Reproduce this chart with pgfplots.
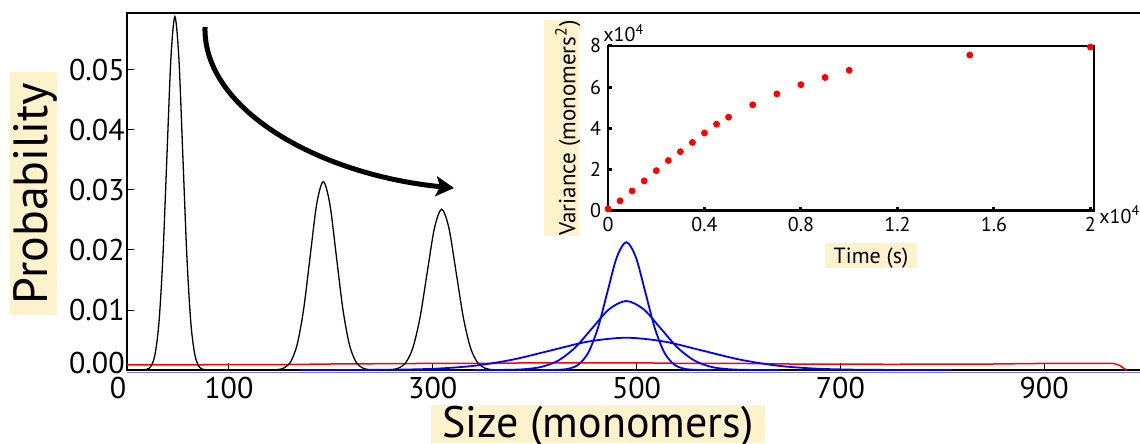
\documentclass[border=0pt]{standalone}
\usepackage{fontspec}
\setmainfont{PT Sans}
\usepackage{pgfplots}
\pgfplotsset{compat=1.18}
\usetikzlibrary{arrows.meta}
\definecolor{labelbg}{RGB}{253,242,204}
\definecolor{axisblue}{RGB}{120,120,210}
\begin{document}
\begin{tikzpicture}
\useasboundingbox (0,0) rectangle (570pt,-222pt);
% main distribution plot
\begin{axis}[
  at={(63.5pt,-185pt)}, anchor=south west,
  scale only axis, width=508pt, height=178.5pt,
  xmin=0, xmax=997, ymin=0, ymax=0.0595,
  axis line style={line width=1.4pt},
  tick align=inside, tick pos=left,
  major tick length=3.5pt,
  tick style={black, line width=0.5pt},
  xtick={100,300,500,700,900},
  ytick={0.01,0.02,0.03,0.04,0.05},
  extra x ticks={0},
  extra x tick style={xticklabel style={xshift=-4.5pt}},
  extra y ticks={0},
  extra y tick style={yticklabel style={yshift=3.5pt}},
  scaled y ticks=false,
  /pgf/number format/assume math mode=true,
  ticklabel style={font=\fontsize{15}{18}\selectfont},
  yticklabel style={/pgf/number format/fixed, /pgf/number format/fixed zerofill,
    /pgf/number format/precision=2, inner xsep=1pt},
]
\addplot[red, line width=0.75pt] coordinates {
  (0,0.00085) (50,0.00085) (100,0.0009) (150,0.0009) (200,0.001) (250,0.00105)
  (300,0.0011) (350,0.0011) (400,0.0012) (450,0.0012) (500,0.0012) (550,0.0011)
  (600,0.0011) (650,0.001) (700,0.001) (750,0.00095) (800,0.001) (850,0.001)
  (900,0.0011) (950,0.0011) (968,0.0011) (974,0.0008) (978,0.0003) (981,0)
};
\addplot[black, line width=0.65pt, smooth] coordinates {
  (12,0) (19.7,0.00013) (23.6,0.00065) (27.5,0.00259) (31.4,0.00797) (35.3,0.01912)
  (39.2,0.03572) (43.1,0.05198) (47,0.0589) (50.9,0.05198) (54.8,0.03572)
  (58.7,0.01912) (62.6,0.00797) (66.5,0.00259) (70.4,0.00065) (74.3,0.00013) (82,0)
};
\addplot[black, line width=0.65pt, smooth] coordinates {
  (140,0) (147.8,0.000069) (154.2,0.000349) (160.6,0.001378) (167,0.004248)
  (173.4,0.010196) (179.8,0.019044) (186.2,0.027711) (192.6,0.0314) (199,0.027711)
  (205.4,0.019044) (211.8,0.010196) (218.2,0.004248) (224.6,0.001378)
  (231,0.000349) (237.4,0.000069) (245,0)
};
\addplot[black, line width=0.65pt, smooth] coordinates {
  (250,0) (259.1,0.000059) (266.2,0.000297) (273.3,0.001177) (280.4,0.003626)
  (287.5,0.008702) (294.6,0.016254) (301.7,0.023651) (308.8,0.0268) (315.9,0.023651)
  (323,0.016254) (330.1,0.008702) (337.2,0.003626) (344.3,0.001177)
  (351.4,0.000297) (358.5,0.000059) (367,0)
};
\addplot[blue, line width=0.9pt, smooth] coordinates {
  (405,0) (415.2,0.0000071) (424.55,0.0000469) (433.9,0.000236) (443.25,0.000935)
  (452.6,0.002882) (461.95,0.006916) (471.3,0.012918) (480.65,0.018797) (490,0.0213)
  (499.35,0.018797) (508.7,0.012918) (518.05,0.006916) (527.4,0.002882)
  (536.75,0.000935) (546.1,0.000236) (555.45,0.0000469) (564.8,0.0000071) (575,0)
};
\addplot[blue, line width=0.9pt, smooth] coordinates {
  (340,0) (356,0.0000039) (372.75,0.0000253) (389.5,0.000128) (406.25,0.000505)
  (423,0.001556) (439.75,0.003734) (456.5,0.006975) (473.25,0.010149) (490,0.0115)
  (506.75,0.010149) (523.5,0.006975) (540.25,0.003734) (557,0.001556)
  (573.75,0.000505) (590.5,0.000128) (607.25,0.0000253) (624,0.0000039) (640,0)
};
\addplot[blue, line width=0.9pt, smooth] coordinates {
  (170,0) (194,0.0000018) (231,0.0000118) (268,0.0000597) (305,0.000236)
  (342,0.000728) (379,0.001747) (416,0.003263) (453,0.004748) (490,0.00538)
  (527,0.004748) (564,0.003263) (601,0.001747) (638,0.000728) (675,0.000236)
  (712,0.0000597) (749,0.0000118) (786,0.0000018) (810,0)
};
\end{axis}
\draw[axisblue, line width=0.6pt] (63.5pt,-186.2pt) -- (570pt,-186.2pt);
% inset: variance against time
\begin{axis}[
  at={(304pt,-105.25pt)}, anchor=south west,
  scale only axis, width=243pt, height=82.25pt,
  xmin=0, xmax=2.015, ymin=0, ymax=8,
  axis on top,
  axis line style={line width=1.4pt},
  tick align=inside, tick pos=left,
  major tick length=2pt,
  tick style={black, line width=1.5pt},
  xtick={0,0.4,0.8,1.2,1.6,2},
  xticklabels={0,0.4,0.8,1.2,1.6,2},
  ytick={0,2,4,6,8},
  /pgf/number format/assume math mode=true,
  ticklabel style={font=\fontsize{10}{12}\selectfont},
]
\addplot[only marks, mark=*, mark size=1.5pt, red] coordinates {
  (0,0.08) (0.05,0.47) (0.1,0.95) (0.15,1.44) (0.2,1.94) (0.25,2.43) (0.3,2.86)
  (0.35,3.31) (0.4,3.77) (0.45,4.2) (0.5,4.54) (0.6,5.14) (0.7,5.67) (0.8,6.12)
  (0.9,6.47) (1.0,6.82) (1.5,7.56) (2.0,7.95)
};
\end{axis}
% labels
\node[rotate=90, anchor=base, fill=labelbg, inner sep=0pt, text height=18.5pt,
  text depth=5pt, minimum width=121.5pt, font=\fontsize{24}{28}\selectfont]
  at (23.5pt,-96.75pt) {Probability};
\node[anchor=base, fill=labelbg, inner sep=0pt, text height=16pt, text depth=3pt,
  minimum width=167pt, font=\fontsize{22}{26}\selectfont]
  at (299pt,-218.5pt) {Size (monomers)};
\node[rotate=90, anchor=base, fill=labelbg, inner sep=0pt, text height=15.5pt,
  text depth=2pt, minimum width=105pt, font=\fontsize{11.5}{14}\selectfont]
  at (287.7pt,-64pt) {Variance (monomers\textsuperscript{2})};
\node[anchor=base, fill=labelbg, inner sep=0pt, text height=10pt, text depth=2.5pt,
  minimum width=46pt, font=\fontsize{11}{13}\selectfont]
  at (435.5pt,-131.5pt) {Time (s)};
\node[anchor=base west, inner sep=0pt, font=\fontsize{10}{12}\selectfont]
  at (301.5pt,-21pt) {x10\textsuperscript{4}};
\node[anchor=base west, inner sep=0pt, font=\fontsize{10}{12}\selectfont]
  at (549.5pt,-111.5pt) {x10\textsuperscript{4}};
% arrow
\draw[line width=2.5pt, -{Stealth[length=9pt,width=10pt,inset=2pt]}]
  (102.5pt,-13.5pt) .. controls (101.5pt,-55pt) and (160pt,-87.5pt) .. (227pt,-94pt);
\end{tikzpicture}
\end{document}
